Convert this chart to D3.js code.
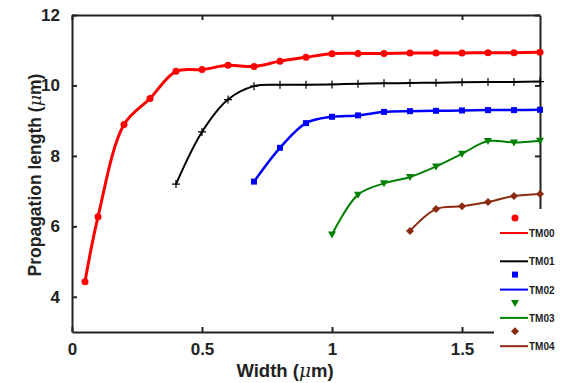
<!DOCTYPE html>
<html lang="en">
<head>
<meta charset="UTF-8"/>
<title>Propagation length vs width</title>
<script src="https://cdnjs.cloudflare.com/ajax/libs/d3/7.8.5/d3.min.js"></script>
<style>
    body { margin: 0; background: #fff; }
    svg { font-family: "Liberation Sans", Arial, sans-serif; }
    .tick text { font-size: 17px; font-weight: bold; fill: #222; }
    .axis-title { font-weight: bold; fill: #222; }
    .legend-label { font-size: 10px; font-weight: bold; fill: #222; }
</style>
</head>
<body>
<div id="chart"></div>
<script>
    // Data
    const widths = [0.05, 0.1, 0.2, 0.3, 0.4, 0.5, 0.6, 0.7, 0.8, 0.9, 1.0, 1.1, 1.2, 1.3, 1.4, 1.5, 1.6, 1.7, 1.8];
    const tm00 = [4.43, 6.27, 8.89, 9.63, 10.4, 10.45, 10.57, 10.54, 10.69, 10.8, 10.9, 10.91, 10.91, 10.92, 10.92, 10.92, 10.93, 10.93, 10.94];
    const tm01Widths = [0.4, 0.5, 0.6, 0.7, 0.8, 0.9, 1.0, 1.1, 1.2, 1.3, 1.4, 1.5, 1.6, 1.7, 1.8];
    const tm01 = [7.2, 8.68, 9.6, 9.98, 10.02, 10.02, 10.03, 10.05, 10.06, 10.07, 10.08, 10.09, 10.1, 10.1, 10.11];
    const tm02Widths = [0.7, 0.8, 0.9, 1.0, 1.1, 1.2, 1.3, 1.4, 1.5, 1.6, 1.7, 1.8];
    const tm02 = [7.27, 8.23, 8.93, 9.11, 9.15, 9.25, 9.27, 9.28, 9.29, 9.3, 9.3, 9.31];
    const tm03Widths = [1.0, 1.1, 1.2, 1.3, 1.4, 1.5, 1.6, 1.7, 1.8];
    const tm03 = [5.77, 6.9, 7.22, 7.4, 7.7, 8.06, 8.42, 8.38, 8.43];
    const tm04Widths = [1.3, 1.4, 1.5, 1.6, 1.7, 1.8];
    const tm04 = [5.87, 6.49, 6.57, 6.69, 6.86, 6.92];

    const xTicks = [0, 0.5, 1, 1.5];
    const yTicks = [4, 6, 8, 10, 12];

    const modes = [
        {name: "TM00", xs: widths, ys: tm00, color: "#ff0000", marker: "circle", lw: 3},
        {name: "TM01", xs: tm01Widths, ys: tm01, color: "#000000", marker: "plus", lw: 2},
        {name: "TM02", xs: tm02Widths, ys: tm02, color: "#0000ff", marker: "square", lw: 2.5},
        {name: "TM03", xs: tm03Widths, ys: tm03, color: "#008000", marker: "triangle", lw: 2},
        {name: "TM04", xs: tm04Widths, ys: tm04, color: "#8b2a0e", marker: "diamond", lw: 2}
    ];

    const width = 564;
    const height = 383;
    const margin = {top: 15, right: 24, bottom: 51, left: 72};

    const svg = d3.select("#chart")
        .append("svg")
        .attr("width", width)
        .attr("height", height);

    const xScale = d3.scaleLinear()
        .domain([0, 1.8])
        .range([margin.left, width - margin.right]);

    const yScale = d3.scaleLinear()
        .domain([3, 12])
        .range([height - margin.bottom, margin.top]);

    const fmt = d => String(d);

    // Axes with inward ticks
    svg.append("g")
        .attr("transform", `translate(0,${yScale(3)})`)
        .call(d3.axisBottom(xScale).tickValues(xTicks).tickSizeInner(-5).tickSizeOuter(0).tickPadding(11).tickFormat(fmt));

    svg.append("g")
        .attr("transform", `translate(0,${yScale(12)})`)
        .call(d3.axisTop(xScale).tickValues(xTicks).tickSizeInner(-5).tickSizeOuter(0).tickFormat(""));

    svg.append("g")
        .attr("transform", `translate(${xScale(0)},0)`)
        .call(d3.axisLeft(yScale).tickValues(yTicks).tickSizeInner(-5).tickSizeOuter(0).tickPadding(12).tickFormat(fmt));

    svg.append("g")
        .attr("transform", `translate(${xScale(1.8)},0)`)
        .call(d3.axisRight(yScale).tickValues(yTicks).tickSizeInner(-5).tickSizeOuter(0).tickFormat(""));

    svg.selectAll(".domain, .tick line")
        .attr("stroke", "#222")
        .attr("stroke-width", 2);

    // Smooth curves through the points, then markers
    const line = d3.line()
        .x(d => xScale(d[0]))
        .y(d => yScale(d[1]))
        .curve(d3.curveCatmullRom.alpha(0.5));

    function drawMarker(g, type, x, y, color) {
        if (type === "circle") {
            g.append("circle").attr("cx", x).attr("cy", y).attr("r", 3.5).attr("fill", color);
        } else if (type === "square") {
            g.append("rect").attr("x", x - 3).attr("y", y - 3).attr("width", 6).attr("height", 6).attr("fill", color);
        } else if (type === "triangle") {
            g.append("path").attr("d", `M${x - 4},${y - 3}L${x + 4},${y - 3}L${x},${y + 4}Z`).attr("fill", color);
        } else if (type === "diamond") {
            g.append("path").attr("d", `M${x},${y - 4}L${x + 4},${y}L${x},${y + 4}L${x - 4},${y}Z`).attr("fill", color);
        } else if (type === "plus") {
            g.append("path").attr("d", `M${x - 4},${y}H${x + 4}M${x},${y - 4}V${y + 4}`)
                .attr("stroke", color).attr("stroke-width", 1.2);
        }
    }

    modes.forEach(m => {
        const pts = m.xs.map((x, i) => [x, m.ys[i]]);
        const g = svg.append("g");
        g.append("path")
            .datum(pts)
            .attr("d", line)
            .attr("fill", "none")
            .attr("stroke", m.color)
            .attr("stroke-width", m.lw);
        pts.forEach(p => drawMarker(g, m.marker, xScale(p[0]), yScale(p[1]), m.color));
    });

    // Legend box (covers the lower right corner of the frame)
    const legend = svg.append("g");
    legend.append("rect")
        .attr("x", 494)
        .attr("y", 209)
        .attr("width", 70)
        .attr("height", 174)
        .attr("fill", "#fff");

    modes.forEach((m, i) => {
        const ly = 233 + i * 28.3;
        if (m.marker !== "plus") drawMarker(legend, m.marker, 515, ly - 15, m.color);
        legend.append("line")
            .attr("x1", 500).attr("x2", 528)
            .attr("y1", ly).attr("y2", ly)
            .attr("stroke", m.color)
            .attr("stroke-width", 2);
        legend.append("text")
            .attr("class", "legend-label")
            .attr("x", 529)
            .attr("y", ly + 4)
            .text(m.name);
    });

    // Axis titles
    function addTitle(sel) {
        sel.append("tspan").text(sel.attr("data-pre"));
        sel.append("tspan").attr("font-style", "italic").attr("font-weight", "normal").attr("font-family", "DejaVu Serif").text("μ");
        sel.append("tspan").text("m)");
    }

    svg.append("text")
        .attr("class", "axis-title")
        .attr("font-size", 18.5)
        .attr("x", 285)
        .attr("y", 377)
        .attr("text-anchor", "middle")
        .attr("data-pre", "Width (")
        .call(addTitle);

    svg.append("text")
        .attr("class", "axis-title")
        .attr("font-size", 17.5)
        .attr("transform", "translate(41,175) rotate(-90)")
        .attr("text-anchor", "middle")
        .attr("data-pre", "Propagation length (")
        .call(addTitle);
</script>
</body>
</html>
